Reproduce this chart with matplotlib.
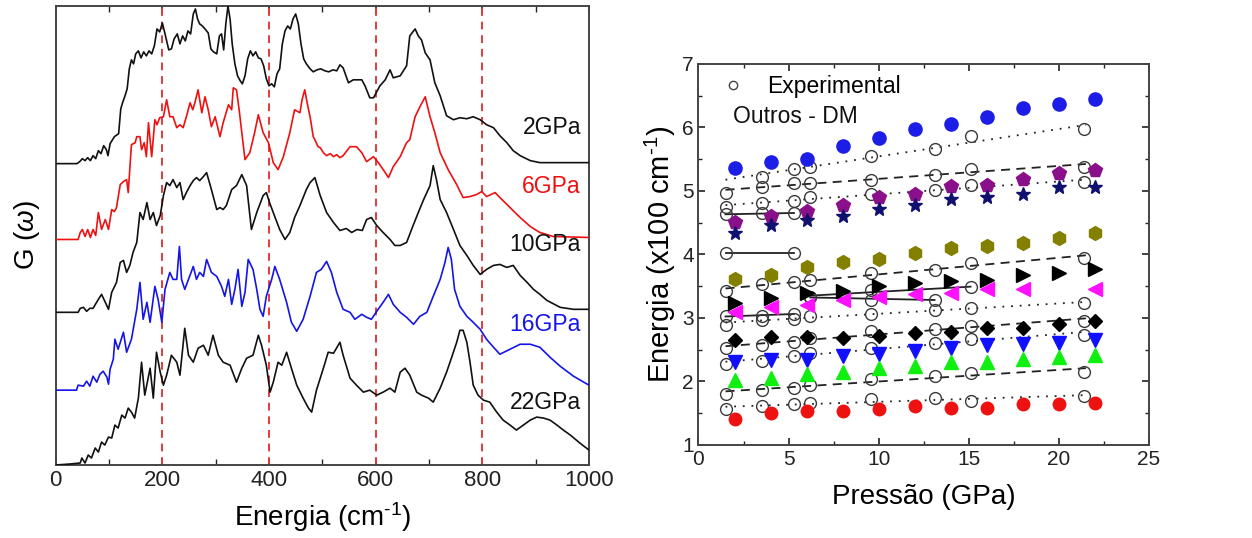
import numpy as np
import matplotlib
matplotlib.use("Agg")
import matplotlib.pyplot as plt
from matplotlib.lines import Line2D
from matplotlib.ticker import MultipleLocator

plt.rcParams["font.family"] = ["Liberation Sans", "DejaVu Sans"]
plt.rcParams["mathtext.fontset"] = "custom"
plt.rcParams["mathtext.rm"] = "Liberation Sans"
plt.rcParams["mathtext.it"] = "Liberation Sans:italic"

# ---------------- phonon density of states G(w), (energy cm^-1, G a.u.) ----------------
gpa2 = [(0,0),(40,0),(45,2),(50,5),(55,3),(60,6),(65,3),(70,8),(75,5),(80,13),(85,10),(90,18),(95,14),(98,8),
        (102,20),(110,27),(118,30),(122,55),(126,62),(130,68),(134,75),(138,95),(142,104),(146,100),(150,110),
        (155,113),(160,106),(165,112),(170,108),(175,113),(180,110),(185,118),(190,135),(195,132),(200,141),
        (205,130),(212,114),(217,115),(222,125),(228,130),(233,120),(238,128),(243,123),(248,133),(253,130),
        (258,150),(262,155),(266,145),(270,140),(275,138),(280,135),(286,131),(291,115),(296,112),(302,110),
        (307,128),(311,130),(315,114),(319,140),(323,158),(327,145),(331,120),(336,100),(341,88),(346,83),
        (350,80),(355,88),(360,105),(365,113),(370,108),(375,112),(380,106),(385,105),(390,98),(395,85),
        (400,78),(405,80),(410,77),(415,90),(420,95),(425,120),(430,133),(435,138),(440,135),(445,145),
        (450,150),(455,140),(460,120),(465,105),(470,100),(477,95),(483,92),(490,94),(497,95),(505,93),
        (512,92),(520,94),(527,93),(533,99),(539,96),(549,81),(558,84),(564,84),(574,84),(580,78),(589,66),
        (596,66),(599,69),(608,78),(618,84),(627,94),(633,86),(646,88),(658,98),(664,128),(674,135),(680,128),
        (686,124),(693,111),(702,104),(711,81),(721,68),(733,48),(746,44),(758,46),(771,45),(783,47),(796,44),
        (808,39),(821,36),(833,28),(846,21),(858,13),(871,8),(890,3),(908,1),(1000,1)]

gpa6 = [(0,0),(42,0),(46,7),(50,10),(55,3),(60,10),(65,2),(70,10),(75,4),(80,27),(86,10),(93,20),(99,10),
        (105,30),(110,28),(114,32),(121,55),(127,58),(133,60),(136,47),(142,95),(149,97),(152,103),(158,103),
        (161,90),(166,97),(170,83),(174,117),(180,83),(186,120),(190,115),(195,122),(202,123),(208,140),
        (214,123),(220,123),(227,112),(233,115),(239,112),(245,123),(252,137),(257,130),(261,137),(267,150),
        (274,127),(280,143),(286,130),(292,113),(299,123),(308,103),(314,117),(324,135),(330,130),(333,152),
        (339,150),(344,130),(349,107),(355,80),(364,87),(373,107),(380,125),(389,107),(399,97),(408,77),
        (417,70),(427,83),(439,107),(448,130),(458,127),(462,140),(467,150),(473,133),(477,123),(483,103),
        (486,100),(492,93),(496,92),(502,87),(508,84),(515,86),(521,83),(527,85),(533,82),(539,84),(552,93),
        (564,93),(574,87),(583,78),(596,83),(605,77),(618,67),(624,62),(633,73),(646,83),(658,97),(664,100),
        (674,123),(683,133),(693,143),(702,123),(711,107),(721,87),(736,70),(752,55),(764,42),(777,43),
        (789,45),(799,48),(808,43),(824,47),(833,42),(852,32),(871,22),(890,13),(908,7),(933,3),(1000,2)]

gpa10 = [(0,0),(42,0),(46,4),(52,5),(55,3),(58,1),(64,4),(70,4),(80,13),(86,18),(93,10),(99,3),(105,20),
         (114,30),(121,50),(127,52),(133,40),(139,47),(145,60),(152,70),(158,100),(164,93),(171,110),(177,93),
         (183,100),(189,87),(196,97),(202,117),(208,130),(214,127),(220,133),(227,125),(233,130),(239,113),
         (245,120),(252,127),(258,132),(264,135),(270,132),(277,136),(283,140),(292,123),(302,103),(308,105),
         (314,103),(320,107),(330,123),(339,127),(349,138),(358,127),(367,83),(377,100),(389,117),(395,120),
         (401,110),(408,100),(420,83),(430,73),(439,80),(448,95),(458,107),(470,123),(477,130),(486,135),
         (496,117),(508,100),(521,90),(533,82),(545,84),(555,80),(565,83),(575,82),(583,93),(592,95),(602,87),
         (614,80),(627,73),(636,67),(646,67),(658,70),(671,88),(680,100),(690,113),(702,127),(708,147),
         (714,133),(721,113),(733,100),(746,83),(758,67),(771,57),(783,47),(796,38),(808,43),(821,47),
         (833,48),(846,45),(858,47),(871,37),(884,30),(896,23),(908,18),(921,12),(946,5),(971,3),(1000,3)]

gpa16 = [(0,0),(39,0),(42,5),(52,4),(58,9),(64,4),(70,14),(77,8),(83,16),(89,19),(96,13),(99,6),(102,21),
         (108,31),(111,51),(117,41),(127,58),(133,38),(142,51),(152,81),(158,108),(164,71),(171,88),(177,68),
         (186,104),(192,91),(199,68),(205,101),(214,118),(220,111),(227,111),(232,144),(236,111),(242,101),
         (249,111),(258,124),(264,111),(270,118),(277,114),(283,131),(292,118),(302,114),(311,104),(317,94),
         (324,111),(330,86),(336,101),(342,121),(349,84),(355,98),(361,131),(370,121),(377,101),(383,81),
         (389,74),(395,94),(405,111),(411,124),(420,111),(433,88),(442,68),(452,59),(464,71),(477,94),
         (489,118),(498,121),(508,129),(517,118),(527,98),(539,81),(552,78),(561,71),(574,76),(583,73),
         (592,71),(602,79),(614,88),(624,96),(633,86),(646,78),(658,73),(671,66),(683,74),(696,78),(708,94),
         (721,111),(730,128),(736,143),(742,131),(748,101),(758,84),(771,74),(783,68),(796,61),(808,51),
         (821,43),(833,36),(852,41),(871,46),(890,46),(908,43),(927,33),(946,24),(971,14),(1000,5)]

gpa22 = [(0,0),(27,1),(46,2),(49,7),(55,2),(61,10),(67,7),(74,17),(80,13),(86,23),(92,20),(99,28),(105,27),
         (111,40),(117,37),(124,50),(130,47),(136,57),(142,53),(148,47),(155,67),(161,103),(167,70),(177,97),
         (183,67),(189,113),(196,93),(202,80),(208,90),(217,110),(227,103),(233,90),(242,137),(249,110),
         (258,103),(267,117),(277,120),(286,110),(295,130),(305,110),(314,103),(327,100),(339,83),(349,97),
         (358,107),(370,110),(380,130),(386,120),(395,100),(402,73),(408,83),(417,103),(424,100),(433,113),
         (442,97),(452,80),(464,67),(474,57),(480,53),(489,75),(502,97),(511,113),(521,112),(533,123),
         (539,110),(552,87),(564,80),(577,73),(589,75),(602,70),(614,73),(627,77),(636,73),(646,93),(655,97),
         (664,90),(677,73),(686,70),(699,67),(708,63),(721,77),(733,93),(742,107),(752,123),(758,135),
         (764,135),(771,123),(777,103),(783,80),(792,70),(802,65),(814,63),(827,53),(839,45),(852,40),
         (864,35),(877,40),(890,45),(902,48),(915,47),(927,45),(940,40),(952,35),(965,30),(983,22),(1000,15)]

# ---------------- mode energies vs pressure (x100 cm^-1) ----------------
p_exp = [1.5, 3.5, 5.3, 6.2, 9.6, 13.1, 15.1, 21.4]
nan = np.nan
exp_modes = [
    ([nan, 5.22, 5.35, 5.37, 5.55, 5.66, 5.87, 5.97], "dotted"),
    ([4.97, 5.06, 5.12, 5.13, 5.18, 5.25, 5.35, 5.38], "dashed"),
    ([4.75, 4.81, 4.84, 4.90, 4.96, 5.01, 5.09, 5.14], "dotted"),
    ([4.63, 4.65, 4.65, nan, nan, nan, nan, nan], "solid"),
    ([4.02, nan, 4.02, nan, nan, nan, nan, nan], "solid"),
    ([3.42, 3.53, 3.56, 3.60, 3.71, 3.75, 3.86, 3.95], "dashed"),
    ([nan, nan, nan, 3.33, 3.44, nan, 3.48, nan], "solid"),
    ([nan, nan, nan, 3.33, 3.29, 3.29, nan, nan], "solid"),
    ([3.03, 3.03, 3.07, nan, nan, nan, nan, nan], "solid"),
    ([2.89, 2.97, 2.99, 3.03, 3.07, 3.12, 3.16, 3.23], "dotted"),
    ([2.52, 2.58, 2.62, 2.69, 2.79, 2.82, 2.87, 2.95], "dashed"),
    ([2.28, 2.33, 2.40, 2.45, 2.53, 2.60, 2.67, 2.73], "dotted"),
    ([1.81, 1.86, 1.90, 1.95, 2.04, 2.08, 2.13, 2.15], "dashed"),
    ([1.57, 1.61, 1.64, 1.66, 1.72, 1.74, 1.69, 1.77], "dotted"),
]

p_md = [2, 4, 6, 8, 10, 12, 14, 16, 18, 20, 22]
md_sphere = [5.36, 5.45, 5.51, 5.71, 5.84, 5.97, 6.06, 6.17, 6.30, 6.37, 6.45]
md_pentagon = [4.51, 4.61, 4.69, 4.78, 4.91, 4.95, 5.08, 5.10, 5.19, 5.29, 5.33]
md_star = [4.34, 4.46, 4.54, 4.61, 4.71, 4.78, 4.87, 4.91, 4.95, 5.07, 5.07]
md_hexagon = [3.62, 3.68, 3.81, 3.88, 3.93, 4.03, 4.10, 4.13, 4.18, 4.26, 4.34]
md_right = [3.23, 3.31, 3.39, 3.42, 3.51, 3.55, 3.58, 3.60, 3.67, 3.71, 3.77]
md_left = [3.09, 3.17, 3.20, 3.29, 3.33, 3.37, 3.40, 3.45, 3.46, nan, 3.46]
md_diamond = [2.66, 2.70, 2.70, 2.68, 2.71, 2.77, 2.78, 2.84, 2.84, 2.91, 2.95]
md_down = [2.30, 2.34, 2.34, 2.40, 2.44, 2.48, 2.52, 2.57, 2.59, 2.60, 2.66]
md_up = [2.02, 2.05, 2.11, 2.15, 2.21, 2.25, 2.30, 2.30, 2.36, 2.38, 2.41]
md_circle = [1.41, 1.50, 1.53, 1.54, 1.56, 1.61, 1.59, 1.59, 1.64, 1.65, 1.66]

fig = plt.figure(figsize=(12.52, 5.38), dpi=100)

# ================= left: G(w) spectra =================
axL = fig.add_axes([0.0445, 0.1357, 0.4259, 0.8532])
spectra = [
    (gpa2, "2GPa", "#111111", 302, 338),
    (gpa6, "6GPa", "#ee1111", 226, 279),
    (gpa10, "10GPa", "#111111", 153, 221),
    (gpa16, "16GPa", "#1515e6", 75, 141),
    (gpa22, "22GPa", "#111111", 0, 63),
]
for data, name, color, shift, label_y in spectra:
    e, g = np.array(data, dtype=float).T
    axL.plot(e, g + shift, color=color, lw=1.2, zorder=3)
    axL.text(985, label_y, name, color=color, ha="right", va="center", fontsize=16.5)
for ev in [200, 400, 600, 800]:
    axL.axvline(ev, color="#e23b3b", ls=(0, (4, 3)), lw=1.4, zorder=2)
axL.set_xlim(0, 1000)
axL.set_ylim(0, 460)
axL.set_yticks([])
axL.xaxis.set_major_locator(MultipleLocator(200))
axL.xaxis.set_minor_locator(MultipleLocator(100))
axL.tick_params(axis="x", which="both", direction="in", top=True, labelsize=16, colors="#222222")
axL.tick_params(axis="x", which="major", length=5, width=1.2)
axL.tick_params(axis="x", which="minor", length=4, width=1.0)
axL.set_xlabel(r"Energia (cm$^{\text{-1}}$)", fontsize=20)
axL.set_ylabel(r"G ($\omega$)", fontsize=20)
axL.xaxis.set_label_coords(0.5, -0.113)
axL.xaxis.label.set_va("center")
axL.yaxis.set_label_coords(-0.054, 0.5)
axL.yaxis.label.set_va("center")
for s in axL.spines.values():
    s.set_color("#444444")
    s.set_linewidth(1.4)

# ================= right: energies vs pressure =================
axR = fig.add_axes([0.5579, 0.1729, 0.3598, 0.7082])
px = np.array(p_exp)
styles = {"dotted": (0, (1, 3.8)), "dashed": (0, (5, 3.5)), "solid": "-"}
for values, kind in exp_modes:
    y = np.array(values)
    ok = ~np.isnan(y)
    k, b = np.polyfit(px[ok], y[ok], 1)
    if kind == "solid":
        xs = np.array([px[ok].min(), px[ok].max()])
    else:
        xs = np.array([px.min(), px.max() + 0.1])
    axR.plot(xs, k * xs + b, color="#222222", ls=styles[kind], lw=1.3, zorder=2)
    axR.plot(px[ok], y[ok], ls="none", marker="o", ms=8.5, mfc="none",
             mec="#3a3a3a", mew=1.0, zorder=3)

md_sets = [
    (md_sphere, "o", "#1d1de8", 9.5),
    (md_pentagon, "p", "#8a0f8a", 10),
    (md_star, "*", "#101070", 10.5),
    (md_hexagon, "h", "#838000", 10),
    (md_right, ">", "#000000", 9.5),
    (md_left, "<", "#ff10ff", 9.5),
    (md_diamond, "D", "#000000", 7.5),
    (md_down, "v", "#1010ff", 9.5),
    (md_up, "^", "#10f010", 9.5),
    (md_circle, "o", "#ee1111", 9),
]
for values, mk, color, size in md_sets:
    axR.plot(p_md, values, ls="none", marker=mk, ms=size, mfc=color, mec=color, zorder=4)

axR.set_xlim(0, 25)
axR.set_ylim(1, 7)
axR.xaxis.set_major_locator(MultipleLocator(5))
axR.xaxis.set_minor_locator(MultipleLocator(2.5))
axR.yaxis.set_major_locator(MultipleLocator(1))
axR.yaxis.set_minor_locator(MultipleLocator(0.5))
axR.tick_params(which="both", direction="in", top=True, right=True, labelsize=15, colors="#222222")
axR.tick_params(which="major", length=5, width=1.2)
axR.tick_params(which="minor", length=3, width=1.0)
axR.set_xlabel("Pressão (GPa)", fontsize=20)
axR.set_ylabel(r"Energia (x100 cm$^{\text{-1}}$)", fontsize=21)
axR.xaxis.set_label_coords(0.5, -0.136)
axR.xaxis.label.set_va("center")
axR.yaxis.set_label_coords(-0.085, 0.5)
axR.yaxis.label.set_va("center")
for s in axR.spines.values():
    s.set_color("#444444")
    s.set_linewidth(1.4)

exp_key = Line2D([], [], ls="none", marker="o", ms=6, mfc="none", mec="#444444", mew=1.0)
axR.legend([exp_key], ["Experimental"], loc="center left", bbox_to_anchor=(0.045, 0.942),
           frameon=False, fontsize=16.5, handlelength=1.2, handletextpad=0.9,
           borderpad=0, borderaxespad=0)
axR.text(0.077, 0.862, "Outros - DM", transform=axR.transAxes, ha="left", va="center",
         fontsize=16.5, color="#111111")

fig.savefig("out.png", dpi=100)
